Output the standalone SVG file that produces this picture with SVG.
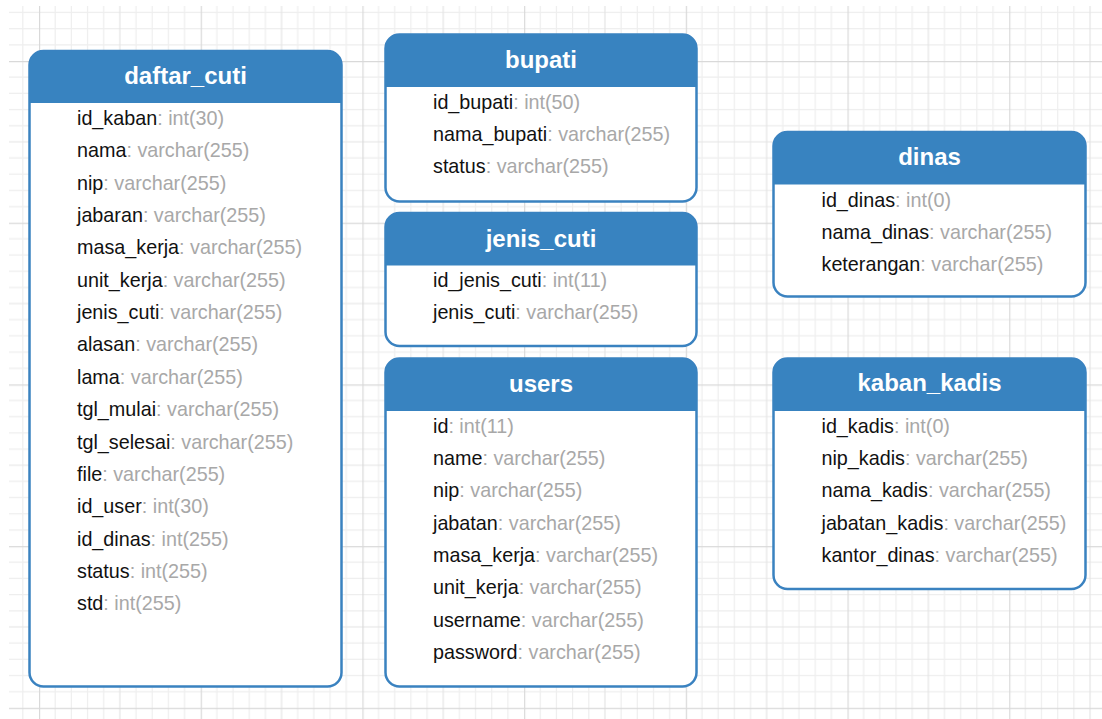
<svg xmlns="http://www.w3.org/2000/svg" width="1102" height="719" viewBox="0 0 1102 719">
<style>
.box{fill:#ffffff;stroke:#3a82c0;stroke-width:2.5}
.hdr{fill:#3883c0}
.title{font-family:"Liberation Sans",Arial,sans-serif;font-size:24px;font-weight:bold;fill:#ffffff;text-anchor:middle}
.row{font-family:"Liberation Sans",Arial,sans-serif;font-size:19.75px;fill:#111111}
.t{fill:#a8a8a8}
</style>
<defs>
<pattern id="grid" patternUnits="userSpaceOnUse" x="39" y="61" width="161.7" height="161.7">
<g stroke="#eeeeee" stroke-width="1.2" fill="none">
<path d="M16.17 0V161.7M32.34 0V161.7M48.51 0V161.7M64.68 0V161.7M97.02 0V161.7M113.19 0V161.7M129.36 0V161.7M145.53 0V161.7"/>
<path d="M0 16.17H161.7M0 32.34H161.7M0 48.51H161.7M0 64.68H161.7M0 97.02H161.7M0 113.19H161.7M0 129.36H161.7M0 145.53H161.7"/>
</g>
<path d="M80.85 0V161.7M0 80.85H161.7" stroke="#e4e4e4" stroke-width="1.2" fill="none"/>
<path d="M0.6 0V161.7M0 0.6H161.7" stroke="#d9d9d9" stroke-width="1.2" fill="none"/>
</pattern>
</defs>
<rect x="0" y="0" width="1102" height="719" fill="#ffffff"/>
<rect x="9" y="6" width="1093" height="713" fill="url(#grid)"/>

<g id="connectors"></g>

<g id="daftar_cuti">
<rect class="box" x="29.5" y="51" width="312" height="635.5" rx="14"/>
<path class="hdr" d="M29.5 103V65A14 14 0 0 1 43.5 51H327.5A14 14 0 0 1 341.5 65V103Z"/>
<text class="title" x="185.5" y="84">daftar_cuti</text>
<text class="row" x="77" y="125">id_kaban<tspan class="t">: int(30)</tspan></text>
<text class="row" x="77" y="157.35">nama<tspan class="t">: varchar(255)</tspan></text>
<text class="row" x="77" y="189.7">nip<tspan class="t">: varchar(255)</tspan></text>
<text class="row" x="77" y="222.05">jabaran<tspan class="t">: varchar(255)</tspan></text>
<text class="row" x="77" y="254.4">masa_kerja<tspan class="t">: varchar(255)</tspan></text>
<text class="row" x="77" y="286.75">unit_kerja<tspan class="t">: varchar(255)</tspan></text>
<text class="row" x="77" y="319.1">jenis_cuti<tspan class="t">: varchar(255)</tspan></text>
<text class="row" x="77" y="351.45">alasan<tspan class="t">: varchar(255)</tspan></text>
<text class="row" x="77" y="383.8">lama<tspan class="t">: varchar(255)</tspan></text>
<text class="row" x="77" y="416.15">tgl_mulai<tspan class="t">: varchar(255)</tspan></text>
<text class="row" x="77" y="448.5">tgl_selesai<tspan class="t">: varchar(255)</tspan></text>
<text class="row" x="77" y="480.85">file<tspan class="t">: varchar(255)</tspan></text>
<text class="row" x="77" y="513.2">id_user<tspan class="t">: int(30)</tspan></text>
<text class="row" x="77" y="545.55">id_dinas<tspan class="t">: int(255)</tspan></text>
<text class="row" x="77" y="577.9">status<tspan class="t">: int(255)</tspan></text>
<text class="row" x="77" y="610.25">std<tspan class="t">: int(255)</tspan></text>
</g>

<g id="bupati">
<rect class="box" x="385.5" y="34.5" width="311" height="167" rx="14"/>
<path class="hdr" d="M385.5 87V48.5A14 14 0 0 1 399.5 34.5H682.5A14 14 0 0 1 696.5 48.5V87Z"/>
<text class="title" x="541" y="67.5">bupati</text>
<text class="row" x="433" y="108.5">id_bupati<tspan class="t">: int(50)</tspan></text>
<text class="row" x="433" y="140.6">nama_bupati<tspan class="t">: varchar(255)</tspan></text>
<text class="row" x="433" y="172.5">status<tspan class="t">: varchar(255)</tspan></text>
</g>

<g id="jenis_cuti">
<rect class="box" x="385.5" y="213" width="311" height="133" rx="14"/>
<path class="hdr" d="M385.5 265.5V227A14 14 0 0 1 399.5 213H682.5A14 14 0 0 1 696.5 227V265.5Z"/>
<text class="title" x="541" y="246.5">jenis_cuti</text>
<text class="row" x="433" y="287">id_jenis_cuti<tspan class="t">: int(11)</tspan></text>
<text class="row" x="433" y="319">jenis_cuti<tspan class="t">: varchar(255)</tspan></text>
</g>

<g id="users">
<rect class="box" x="385.5" y="358.5" width="311" height="328" rx="14"/>
<path class="hdr" d="M385.5 411V372.5A14 14 0 0 1 399.5 358.5H682.5A14 14 0 0 1 696.5 372.5V411Z"/>
<text class="title" x="541" y="391.5">users</text>
<text class="row" x="433" y="432.7">id<tspan class="t">: int(11)</tspan></text>
<text class="row" x="433" y="465">name<tspan class="t">: varchar(255)</tspan></text>
<text class="row" x="433" y="497.4">nip<tspan class="t">: varchar(255)</tspan></text>
<text class="row" x="433" y="529.7">jabatan<tspan class="t">: varchar(255)</tspan></text>
<text class="row" x="433" y="562">masa_kerja<tspan class="t">: varchar(255)</tspan></text>
<text class="row" x="433" y="594.3">unit_kerja<tspan class="t">: varchar(255)</tspan></text>
<text class="row" x="433" y="626.6">username<tspan class="t">: varchar(255)</tspan></text>
<text class="row" x="433" y="658.8">password<tspan class="t">: varchar(255)</tspan></text>
</g>

<g id="dinas">
<rect class="box" x="773.5" y="132" width="312" height="164.5" rx="14"/>
<path class="hdr" d="M773.5 184.5V146A14 14 0 0 1 787.5 132H1071.5A14 14 0 0 1 1085.5 146V184.5Z"/>
<text class="title" x="929.5" y="164.5">dinas</text>
<text class="row" x="821.5" y="206.7">id_dinas<tspan class="t">: int(0)</tspan></text>
<text class="row" x="821.5" y="239">nama_dinas<tspan class="t">: varchar(255)</tspan></text>
<text class="row" x="821.5" y="271">keterangan<tspan class="t">: varchar(255)</tspan></text>
</g>

<g id="kaban_kadis">
<rect class="box" x="773.5" y="358.5" width="312" height="230.5" rx="14"/>
<path class="hdr" d="M773.5 411V372.5A14 14 0 0 1 787.5 358.5H1071.5A14 14 0 0 1 1085.5 372.5V411Z"/>
<text class="title" x="929.5" y="391">kaban_kadis</text>
<text class="row" x="821.5" y="432.7">id_kadis<tspan class="t">: int(0)</tspan></text>
<text class="row" x="821.5" y="465">nip_kadis<tspan class="t">: varchar(255)</tspan></text>
<text class="row" x="821.5" y="497.2">nama_kadis<tspan class="t">: varchar(255)</tspan></text>
<text class="row" x="821.5" y="529.5">jabatan_kadis<tspan class="t">: varchar(255)</tspan></text>
<text class="row" x="821.5" y="561.8">kantor_dinas<tspan class="t">: varchar(255)</tspan></text>
</g>
</svg>
